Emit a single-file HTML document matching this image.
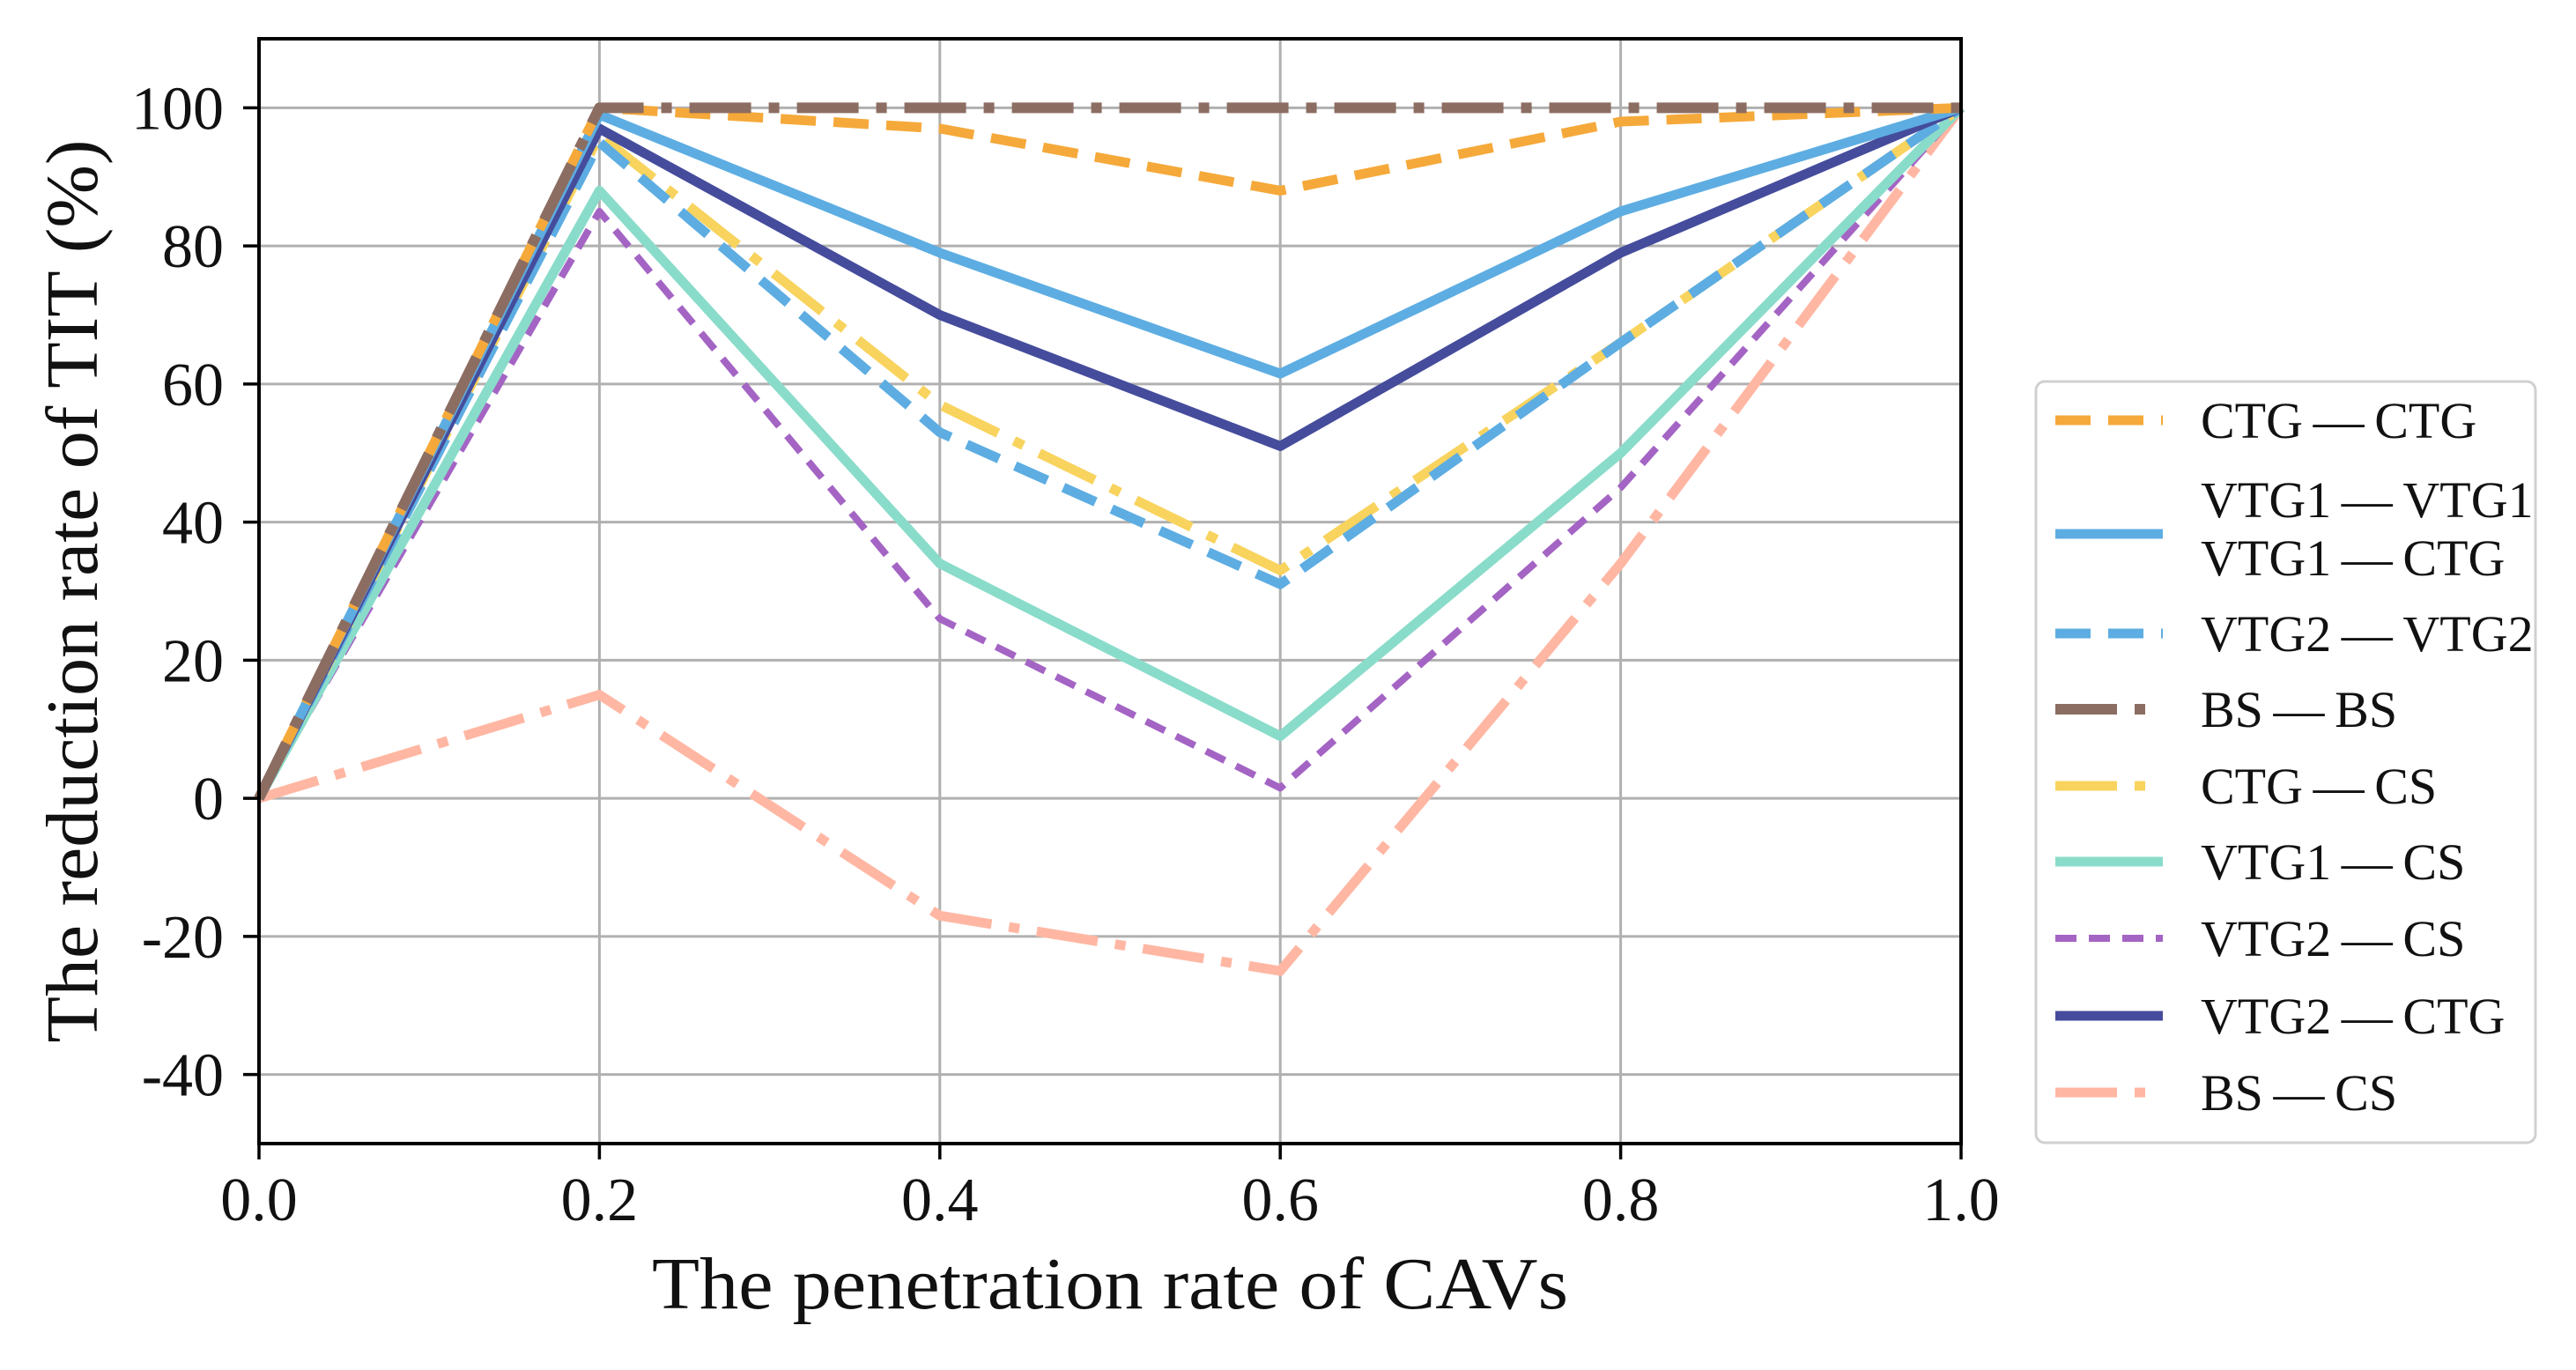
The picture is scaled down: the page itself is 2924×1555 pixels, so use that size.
<!DOCTYPE html>
<html><head><meta charset="utf-8"><style>
html,body{margin:0;padding:0;background:#fff;}
svg text{font-family:"Liberation Serif",serif;fill:#111;}
</style></head><body>
<svg id="chart" width="2924" height="1550" viewBox="0 0 2924 1550" xmlns="http://www.w3.org/2000/svg">
<g id="grid"></g>
<g id="series"></g>
<g id="axes"></g>
<text x="740" y="1485" font-size="84" textLength="1040" lengthAdjust="spacingAndGlyphs">The penetration rate of CAVs</text>
<text transform="translate(110,671) rotate(-90)" text-anchor="middle" font-size="84" textLength="1025" lengthAdjust="spacingAndGlyphs">The reduction rate of TIT (%)</text>
<g id="legend"></g>
</svg>
<script>
const xValues = [0, 0.2, 0.4, 0.6, 0.8, 1.0];
const xTickLabels = ["0.0","0.2","0.4","0.6","0.8","1.0"];
const yTicks = [-40,-20,0,20,40,60,80,100];
const ctgCtg  = [0,100,97,88,98,100];
const vtg1Vtg1= [0,99,79,61.5,85,100];
const vtg2Vtg2= [0,95,53,31,66,100];
const bsBs    = [0,100,100,100,100,100];
const ctgCs   = [0,96,57,33,66,100];
const vtg1Cs  = [0,88,34,9,50,100];
const vtg2Cs  = [0,85,26,1.5,45,100];
const vtg2Ctg = [0,97,70,51,79,100];
const bsCs    = [0,15,-17,-25,34,100];
const seriesNames = ["CTG\u2009—\u2009CTG","VTG1\u2009—\u2009VTG1\nVTG1\u2009—\u2009CTG","VTG2\u2009—\u2009VTG2","BS\u2009—\u2009BS","CTG\u2009—\u2009CS","VTG1\u2009—\u2009CS","VTG2\u2009—\u2009CS","VTG2\u2009—\u2009CTG","BS\u2009—\u2009CS"];

const NS="http://www.w3.org/2000/svg";
const L=294,R=2226,T=44,B=1298;
const xMin=0,xMax=1,yMin=-50,yMax=110;
const xs=v=>L+(v-xMin)/(xMax-xMin)*(R-L);
const ys=v=>B-(v-yMin)/(yMax-yMin)*(B-T);
function mk(tag,attrs,parent){const e=document.createElementNS(NS,tag);for(const k in attrs)e.setAttribute(k,attrs[k]);parent.appendChild(e);return e;}
const grid=document.getElementById('grid'),axes=document.getElementById('axes'),sg=document.getElementById('series'),lg=document.getElementById('legend');

xValues.forEach((v,i)=>{
  const g=mk('line',{x1:xs(v),x2:xs(v),y1:T,y2:B,stroke:'#b0b0b0','stroke-width':3},grid);
  
  
  const t=mk('line',{x1:xs(v),x2:xs(v),y1:B,y2:B+18,stroke:'#000','stroke-width':3.5},axes);
  
  
  const lb=mk('text',{x:xs(v),y:1385,'text-anchor':'middle','font-size':70},axes);
  lb.textContent=xTickLabels[i];
  
  
});
yTicks.forEach(v=>{
  const g=mk('line',{x1:L,x2:R,y1:ys(v),y2:ys(v),stroke:'#b0b0b0','stroke-width':3},grid);
  
  
  const t=mk('line',{x1:L-18,x2:L,y1:ys(v),y2:ys(v),stroke:'#000','stroke-width':3.5},axes);
  
  
  const lb=mk('text',{x:254,y:ys(v)+24,'text-anchor':'end','font-size':70},axes);
  lb.textContent=String(v);
  
  
});
const frame=mk('rect',{x:L,y:T,width:R-L,height:B-T,fill:'none',stroke:'#000','stroke-width':4},axes);



const styles=[
 {d:ctgCtg,c:'#f5a93a',w:11,dash:'40 20',n:'ctg-ctg'},
 {d:vtg1Vtg1,c:'#5dade2',w:11,dash:'',n:'vtg1-vtg1'},
 {d:vtg2Vtg2,c:'#5dade2',w:11,dash:'40 20',n:'vtg2-vtg2'},
 {d:bsBs,c:'#8c6d62',w:12,dash:'70 20 12 20',n:'bs-bs'},
 {d:ctgCs,c:'#f8d35e',w:11,dash:'70 20 12 20',n:'ctg-cs'},
 {d:vtg1Cs,c:'#8adcca',w:11,dash:'',n:'vtg1-cs'},
 {d:vtg2Cs,c:'#a464c4',w:8,dash:'24 14',n:'vtg2-cs'},
 {d:vtg2Ctg,c:'#454c9c',w:11,dash:'',n:'vtg2-ctg'},
 {d:bsCs,c:'#ffb7a3',w:11,dash:'70 20 12 20',n:'bs-cs'}
];
const drawOrder=[8,6,5,4,2,7,1,0,3];
drawOrder.forEach(i=>{
  const s=styles[i];
  const pts=s.d.map((v,j)=>xs(xValues[j])+','+ys(v)).join(' ');
  const p=mk('polyline',{points:pts,fill:'none',stroke:s.c,'stroke-width':s.w,'stroke-dasharray':s.dash,'stroke-linejoin':'round'},sg);
  
  
});

const box=mk('rect',{x:2311,y:433,width:567,height:864,rx:10,fill:'#fff',stroke:'#d0d0d0','stroke-width':3},lg);


const entryY=[477,606,719,805,892,978,1065,1153,1240];
styles.forEach((s,i)=>{
  const y=entryY[i];
  const h=mk('line',{x1:2333,x2:2455,y1:y,y2:y,stroke:s.c,'stroke-width':s.w,'stroke-dasharray':s.dash},lg);
  
  
  const lines=seriesNames[i].split('\n');
  lines.forEach((txt,k)=>{
    const ty=lines.length>1?(k===0?567:633):y;
    const t=mk('text',{x:2498,y:ty+20,'font-size':58},lg);
    t.textContent=txt;
    
    
  });
});
</script>
</body></html>
